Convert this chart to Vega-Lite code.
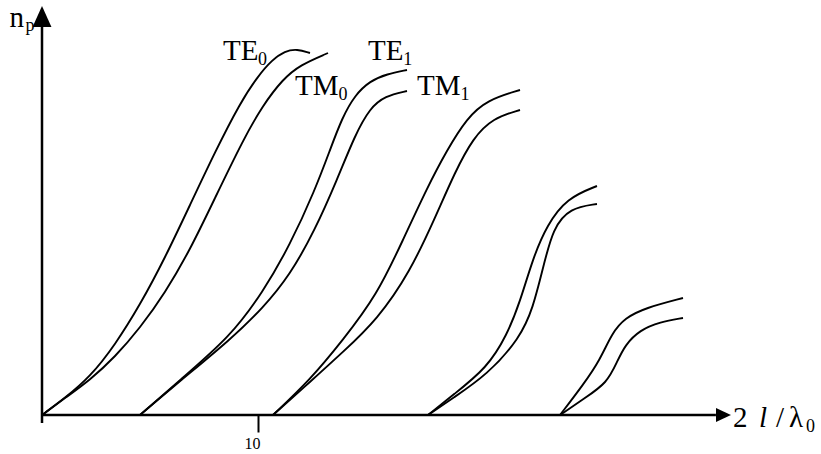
{
  "$schema": "https://vega.github.io/schema/vega-lite/v6.json",
  "autosize": {"type": "none"},
  "width": 779,
  "height": 415,
  "padding": {"left": 42, "top": 0, "right": 0, "bottom": 39},
  "background": "white",
  "config": {"view": {"stroke": null}},
  "datasets": {
    "curves": [
      {"s": "TE0", "x": 0, "y": 0}, {"s": "TE0", "x": 1.065, "y": 17}, {"s": "TE0", "x": 2.222, "y": 38}, {"s": "TE0", "x": 3.38, "y": 70}, {"s": "TE0", "x": 4.537, "y": 110}, {"s": "TE0", "x": 5.694, "y": 157}, {"s": "TE0", "x": 6.852, "y": 210}, {"s": "TE0", "x": 8.009, "y": 263}, {"s": "TE0", "x": 9.167, "y": 312}, {"s": "TE0", "x": 10.0, "y": 339}, {"s": "TE0", "x": 10.648, "y": 355}, {"s": "TE0", "x": 11.25, "y": 364}, {"s": "TE0", "x": 11.806, "y": 366}, {"s": "TE0", "x": 12.407, "y": 362},
      {"s": "TM0", "x": 0, "y": 0}, {"s": "TM0", "x": 1.065, "y": 17}, {"s": "TM0", "x": 2.222, "y": 35}, {"s": "TM0", "x": 3.38, "y": 58}, {"s": "TM0", "x": 4.537, "y": 87}, {"s": "TM0", "x": 5.694, "y": 122}, {"s": "TM0", "x": 6.852, "y": 165}, {"s": "TM0", "x": 8.009, "y": 217}, {"s": "TM0", "x": 9.306, "y": 275}, {"s": "TM0", "x": 10.231, "y": 310}, {"s": "TM0", "x": 11.157, "y": 336}, {"s": "TM0", "x": 11.944, "y": 350}, {"s": "TM0", "x": 13.241, "y": 362},
      {"s": "TE1", "x": 4.537, "y": 0}, {"s": "TE1", "x": 6.389, "y": 35}, {"s": "TE1", "x": 8.704, "y": 78}, {"s": "TE1", "x": 10.231, "y": 123}, {"s": "TE1", "x": 11.481, "y": 170}, {"s": "TE1", "x": 12.639, "y": 225}, {"s": "TE1", "x": 13.333, "y": 265}, {"s": "TE1", "x": 13.889, "y": 297}, {"s": "TE1", "x": 14.491, "y": 320}, {"s": "TE1", "x": 15.185, "y": 334}, {"s": "TE1", "x": 15.972, "y": 341}, {"s": "TE1", "x": 16.898, "y": 345},
      {"s": "TM1", "x": 4.537, "y": 0}, {"s": "TM1", "x": 6.389, "y": 34}, {"s": "TM1", "x": 8.704, "y": 75}, {"s": "TM1", "x": 10.231, "y": 107}, {"s": "TM1", "x": 11.481, "y": 140}, {"s": "TM1", "x": 12.639, "y": 185}, {"s": "TM1", "x": 13.657, "y": 235}, {"s": "TM1", "x": 14.491, "y": 280}, {"s": "TM1", "x": 15.185, "y": 307}, {"s": "TM1", "x": 15.88, "y": 319}, {"s": "TM1", "x": 16.898, "y": 324},
      {"s": "TE2", "x": 10.694, "y": 0}, {"s": "TE2", "x": 12.407, "y": 35}, {"s": "TE2", "x": 13.935, "y": 75}, {"s": "TE2", "x": 15.509, "y": 120}, {"s": "TE2", "x": 16.713, "y": 175}, {"s": "TE2", "x": 17.824, "y": 227}, {"s": "TE2", "x": 18.75, "y": 265}, {"s": "TE2", "x": 19.676, "y": 297}, {"s": "TE2", "x": 20.602, "y": 315}, {"s": "TE2", "x": 22.13, "y": 325},
      {"s": "TM2", "x": 10.694, "y": 0}, {"s": "TM2", "x": 12.407, "y": 33}, {"s": "TM2", "x": 13.935, "y": 63}, {"s": "TM2", "x": 15.509, "y": 95}, {"s": "TM2", "x": 17.037, "y": 143}, {"s": "TM2", "x": 18.194, "y": 197}, {"s": "TM2", "x": 19.12, "y": 243}, {"s": "TM2", "x": 19.954, "y": 277}, {"s": "TM2", "x": 20.88, "y": 297}, {"s": "TM2", "x": 22.13, "y": 305},
      {"s": "TE3", "x": 17.87, "y": 0}, {"s": "TE3", "x": 19.028, "y": 20}, {"s": "TE3", "x": 20.602, "y": 47}, {"s": "TE3", "x": 21.528, "y": 80}, {"s": "TE3", "x": 22.13, "y": 113}, {"s": "TE3", "x": 22.731, "y": 157}, {"s": "TE3", "x": 23.38, "y": 190}, {"s": "TE3", "x": 24.306, "y": 217}, {"s": "TE3", "x": 25.694, "y": 229},
      {"s": "TM3", "x": 17.87, "y": 0}, {"s": "TM3", "x": 19.028, "y": 17}, {"s": "TM3", "x": 20.602, "y": 40}, {"s": "TM3", "x": 22.13, "y": 77}, {"s": "TM3", "x": 22.731, "y": 107}, {"s": "TM3", "x": 23.194, "y": 147}, {"s": "TM3", "x": 23.657, "y": 187}, {"s": "TM3", "x": 24.444, "y": 207}, {"s": "TM3", "x": 25.694, "y": 211},
      {"s": "TE4", "x": 23.981, "y": 0}, {"s": "TE4", "x": 25.046, "y": 30}, {"s": "TE4", "x": 25.833, "y": 55}, {"s": "TE4", "x": 26.389, "y": 82}, {"s": "TE4", "x": 26.991, "y": 97}, {"s": "TE4", "x": 27.917, "y": 107}, {"s": "TE4", "x": 29.676, "y": 117},
      {"s": "TM4", "x": 23.981, "y": 0}, {"s": "TM4", "x": 25.139, "y": 17}, {"s": "TM4", "x": 26.157, "y": 32}, {"s": "TM4", "x": 26.62, "y": 53}, {"s": "TM4", "x": 26.991, "y": 70}, {"s": "TM4", "x": 27.685, "y": 85}, {"s": "TM4", "x": 28.611, "y": 93}, {"s": "TM4", "x": 29.676, "y": 97}
    ],
    "axes": [
      {"x": 0, "y": 0, "x2": 31.2, "y2": 0},
      {"x": 0, "y": -8, "x2": 0, "y2": 390}
    ],
    "arrowX": [{"x": 31.55, "y": 0}],
    "arrowY": [{"x": 0, "y": 398.5}],
    "mainText": [
      {"t": "TE", "x": 8.38, "y": 355},
      {"t": "TM", "x": 11.71, "y": 320},
      {"t": "TE", "x": 15.09, "y": 355},
      {"t": "TM", "x": 17.36, "y": 320},
      {"t": "2", "x": 31.99, "y": -12},
      {"t": "/", "x": 33.98, "y": -12},
      {"t": "λ", "x": 34.58, "y": -12}
    ],
    "bigText": [{"t": "n", "x": -1.5, "y": 388}],
    "subText": [
      {"t": "0", "x": 10.0, "y": 350},
      {"t": "0", "x": 13.73, "y": 315},
      {"t": "1", "x": 16.73, "y": 350},
      {"t": "1", "x": 19.38, "y": 315},
      {"t": "p", "x": -0.76, "y": 384},
      {"t": "0", "x": 35.37, "y": -17}
    ],
    "italicText": [{"t": "l", "x": 33.19, "y": -12}]
  },
  "encoding": {
    "x": {
      "field": "x", "type": "quantitative",
      "scale": {"domain": [0, 36.065], "nice": false, "zero": false},
      "axis": {
        "values": [10], "domain": false, "grid": false, "title": null,
        "tickSize": 17, "tickWidth": 2, "tickColor": "black",
        "labelFont": "Liberation Serif", "labelFontSize": 16, "labelColor": "black",
        "labelOffset": -6, "labelPadding": 3
      }
    },
    "y": {
      "field": "y", "type": "quantitative",
      "scale": {"domain": [0, 415], "nice": false, "zero": false},
      "axis": null
    }
  },
  "layer": [
    {
      "data": {"name": "curves"},
      "mark": {"type": "line", "color": "black", "strokeWidth": 1.9, "interpolate": "basis"},
      "encoding": {"detail": {"field": "s"}}
    },
    {
      "data": {"name": "axes"},
      "mark": {"type": "rule", "color": "black", "strokeWidth": 2.5},
      "encoding": {"x2": {"field": "x2"}, "y2": {"field": "y2"}}
    },
    {
      "data": {"name": "arrowX"},
      "mark": {"type": "point", "shape": "M-1,-0.93L1,0L-1,0.93Z", "size": 225, "filled": true, "color": "black", "opacity": 1}
    },
    {
      "data": {"name": "arrowY"},
      "mark": {"type": "point", "shape": "M0,-1L0.9,1L-0.9,1Z", "size": 441, "filled": true, "color": "black", "opacity": 1}
    },
    {
      "data": {"name": "mainText"},
      "mark": {"type": "text", "font": "Liberation Serif", "fontSize": 29, "align": "left", "baseline": "alphabetic", "color": "black"},
      "encoding": {"text": {"field": "t"}}
    },
    {
      "data": {"name": "bigText"},
      "mark": {"type": "text", "font": "Liberation Serif", "fontSize": 29, "align": "left", "baseline": "alphabetic", "color": "black"},
      "encoding": {"text": {"field": "t"}}
    },
    {
      "data": {"name": "subText"},
      "mark": {"type": "text", "font": "Liberation Serif", "fontSize": 18, "align": "left", "baseline": "alphabetic", "color": "black"},
      "encoding": {"text": {"field": "t"}}
    },
    {
      "data": {"name": "italicText"},
      "mark": {"type": "text", "font": "Liberation Serif", "fontSize": 29, "fontStyle": "italic", "align": "left", "baseline": "alphabetic", "color": "black"},
      "encoding": {"text": {"field": "t"}}
    }
  ]
}
